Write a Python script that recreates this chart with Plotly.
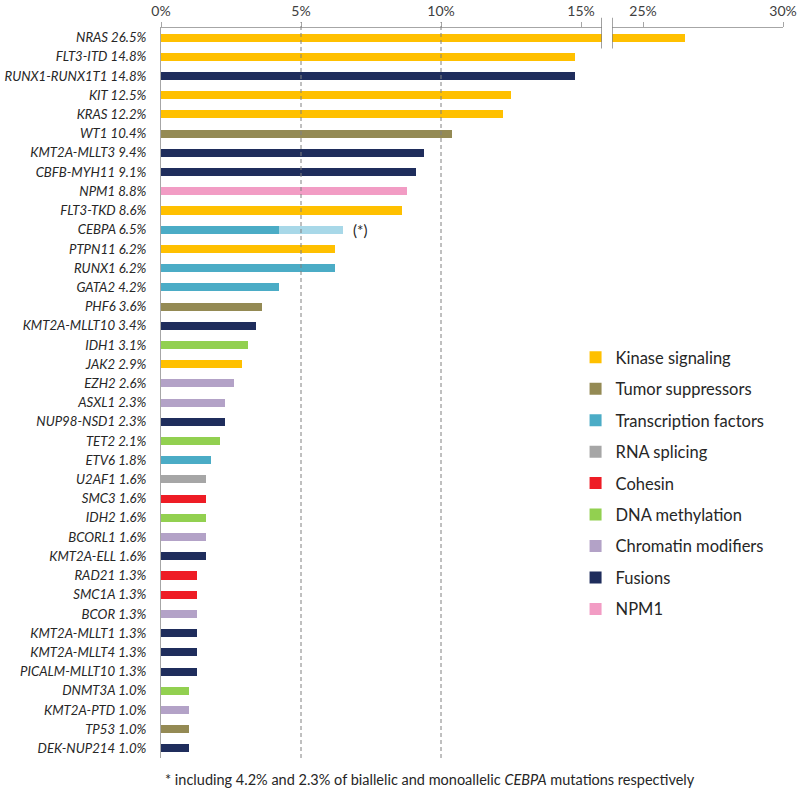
import plotly.graph_objects as go

genes = ["NRAS", "FLT3-ITD", "RUNX1-RUNX1T1", "KIT", "KRAS", "WT1", "KMT2A-MLLT3",
         "CBFB-MYH11", "NPM1", "FLT3-TKD", "CEBPA", "PTPN11", "RUNX1", "GATA2", "PHF6",
         "KMT2A-MLLT10", "IDH1", "JAK2", "EZH2", "ASXL1", "NUP98-NSD1", "TET2", "ETV6",
         "U2AF1", "SMC3", "IDH2", "BCORL1", "KMT2A-ELL", "RAD21", "SMC1A", "BCOR",
         "KMT2A-MLLT1", "KMT2A-MLLT4", "PICALM-MLLT10", "DNMT3A", "KMT2A-PTD", "TP53",
         "DEK-NUP214"]
values = [26.5, 14.8, 14.8, 12.5, 12.2, 10.4, 9.4, 9.1, 8.8, 8.6, 6.5, 6.2, 6.2, 4.2, 3.6,
          3.4, 3.1, 2.9, 2.6, 2.3, 2.3, 2.1, 1.8, 1.6, 1.6, 1.6, 1.6, 1.6, 1.3, 1.3, 1.3,
          1.3, 1.3, 1.3, 1.0, 1.0, 1.0, 1.0]
groups = ["Kinase signaling", "Kinase signaling", "Fusions", "Kinase signaling",
          "Kinase signaling", "Tumor suppressors", "Fusions", "Fusions", "NPM1",
          "Kinase signaling", "Transcription factors", "Kinase signaling",
          "Transcription factors", "Transcription factors", "Tumor suppressors", "Fusions",
          "DNA methylation", "Kinase signaling", "Chromatin modifiers", "Chromatin modifiers",
          "Fusions", "DNA methylation", "Transcription factors", "RNA splicing", "Cohesin",
          "DNA methylation", "Chromatin modifiers", "Fusions", "Cohesin", "Cohesin",
          "Chromatin modifiers", "Fusions", "Fusions", "Fusions", "DNA methylation",
          "Chromatin modifiers", "Tumor suppressors", "Fusions"]
cebpa_biallelic = 4.2
cebpa_monoallelic = 2.3

categories = ["Kinase signaling", "Tumor suppressors", "Transcription factors",
              "RNA splicing", "Cohesin", "DNA methylation", "Chromatin modifiers",
              "Fusions", "NPM1"]
colors = ["#FFC000", "#948A54", "#4BACC6", "#A6A6A6", "#EE1C25", "#92D050",
          "#B3A2C7", "#1F2D5C", "#F29CC4"]
mono_color = "#A8D8E8"
x_ticks1 = [0, 5, 10, 15]
x_ticks2 = [25, 30]

labels = [f"{g} {v:.1f}%" for g, v in zip(genes, values)]

fig = go.Figure()
for cat, col in zip(categories, colors):
    ys, xs = [], []
    for lab, g, v, grp in zip(labels, genes, values, groups):
        if grp == cat:
            ys.append(lab)
            xs.append(cebpa_biallelic if g == "CEBPA" else v)
    fig.add_trace(go.Bar(x=xs, y=ys, orientation="h", name=cat, marker_color=col,
                         marker_line_width=0, legendgroup=cat, xaxis="x", yaxis="y"))

cebpa_label = labels[genes.index("CEBPA")]
fig.add_trace(go.Bar(x=[cebpa_monoallelic], y=[cebpa_label], orientation="h",
                     marker_color=mono_color, marker_line_width=0, showlegend=False,
                     xaxis="x", yaxis="y"))

# NRAS continuation on the broken axis segment
top_i = 0
fig.add_trace(go.Bar(x=[values[top_i]], y=[labels[top_i]], orientation="h",
                     marker_color=colors[categories.index(groups[top_i])],
                     marker_line_width=0, showlegend=False, xaxis="x2", yaxis="y"))

fig.add_annotation(x=values[genes.index("CEBPA")], y=cebpa_label, xref="x", yref="y",
                   text="(*)", showarrow=False, xanchor="left", xshift=8,
                   font=dict(family="Lato", size=15, color="#262626"))

fig.add_annotation(x=0.4325, y=-0.030, xref="paper", yref="paper", yanchor="middle",
                   text="* including 4.2% and 2.3% of biallelic and monoallelic <i>CEBPA</i> mutations respectively",
                   showarrow=False, font=dict(family="Lato", size=14.5, color="#262626"))

for xv in [5, 10]:
    fig.add_shape(type="line", xref="x", yref="paper", x0=xv, x1=xv, y0=0, y1=1.008,
                  line=dict(color="#808080", width=1, dash="4px,3px"))

grey = "#A6A6A6"
fig.add_shape(type="line", xref="x", yref="paper", x0=15.75, x1=15.75, y0=0.972, y1=1.014,
              line=dict(color="#7F7F7F", width=1.5))
fig.add_shape(type="line", xref="x2", yref="paper", x0=23.89, x1=23.89, y0=0.972, y1=1.014,
              line=dict(color="#7F7F7F", width=1.5))

fig.update_layout(
    width=800, height=794,
    margin=dict(l=161, r=17, t=28, b=36),
    plot_bgcolor="white", paper_bgcolor="white",
    barmode="stack", bargap=0.58,
    font=dict(family="Lato", color="#262626"),
    xaxis=dict(domain=[0, 0.709], range=[0, 15.75], side="top", showgrid=False,
               zeroline=False, showline=True, linecolor=grey, linewidth=1, automargin=False,
               tickvals=x_ticks1, ticktext=[f"{t}%" for t in x_ticks1],
               ticks="outside", ticklen=5, tickcolor=grey,
               tickfont=dict(family="Lato", size=14, color="#404040")),
    xaxis2=dict(domain=[0.725, 1], range=[23.89, 30], side="top", anchor="y",
                showgrid=False, zeroline=False, showline=True, linecolor=grey, linewidth=1,
                automargin=False,
                tickvals=x_ticks2, ticktext=[f"{t}%" for t in x_ticks2],
                ticks="outside", ticklen=5, tickcolor=grey,
                tickfont=dict(family="Lato", size=14, color="#404040")),
    yaxis=dict(categoryorder="array", categoryarray=labels, range=[len(labels) - 0.5, -0.5],
               showline=True, linecolor=grey, linewidth=1, showgrid=False, ticks="",
               ticklabelstandoff=11, automargin=False,
               tickfont=dict(family="Lato", size=13.2, color="#262626", style="italic")),
    legend=dict(x=0.6665, y=0.5725, xanchor="left", yanchor="top", traceorder="grouped",
                tracegroupgap=7, font=dict(family="Lato", size=16.5, color="#262626"),
                bgcolor="rgba(0,0,0,0)"),
    showlegend=True,
)

fig.write_html("out.html", config={"displayModeBar": False},
               post_script="document.body.style.margin='0px';")
